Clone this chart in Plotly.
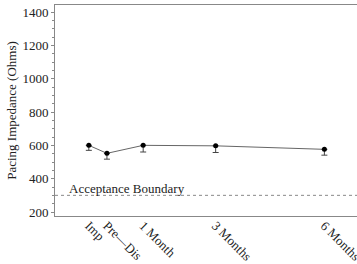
import plotly.graph_objects as go

categories = ["Imp", "Pre\u2014Dis", "1 Month", "3 Months", "6 Months"]
x_pos = [-15, 0, 30, 90, 180]
values = [600, 552, 600, 597, 576]
err_minus = [30, 35, 40, 40, 35]
boundary = 300
yticks = [200, 400, 600, 800, 1000, 1200, 1400]

FONT = "Liberation Serif"

fig = go.Figure()
fig.add_trace(go.Scatter(
    x=x_pos, y=values, mode="lines+markers",
    line=dict(color="#666666", width=1),
    marker=dict(color="black", size=5),
    error_y=dict(type="data", symmetric=False, array=[0]*len(values),
                 arrayminus=err_minus, color="#444444", thickness=1, width=3),
    showlegend=False,
))
fig.add_shape(type="line", xref="paper", x0=0, x1=1, yref="y", y0=boundary, y1=boundary,
              line=dict(color="#888888", width=1, dash="dot"))
fig.add_annotation(x=-33, y=boundary, xref="x", yref="y", text="Acceptance Boundary",
                   showarrow=False, xanchor="left", yanchor="bottom", yshift=-3,
                   font=dict(family=FONT, size=13, color="#222222"))

fig.update_layout(
    width=357, height=264,
    margin=dict(l=55, r=0, t=5, b=48),
    paper_bgcolor="white", plot_bgcolor="white",
    font=dict(family=FONT, size=13, color="#222222"),
    xaxis=dict(range=[-43, 207], tickvals=x_pos, ticktext=categories, tickangle=45,
               showgrid=False, zeroline=False, showline=True, linecolor="#888888",
               linewidth=1, mirror=True, ticks="", tickfont=dict(size=13),
               automargin=False, ticklabeloverflow="allow", ticklabelstandoff=-4),
    yaxis=dict(range=[176, 1442], tickvals=yticks, showgrid=False, zeroline=False,
               showline=True, linecolor="#888888", linewidth=1, ticks="outside",
               ticklen=3, tickcolor="#888888",
               minor=dict(dtick=50, ticks="outside", ticklen=2, tickcolor="#888888"),
               title=dict(text="Pacing Impedance (Ohms)", font=dict(size=13), standoff=2),
               tickfont=dict(size=13), automargin=False),
)
fig.write_html(
    "out.html",
    config={"responsive": False, "displayModeBar": False},
    post_script="document.body.style.margin='0';document.body.style.overflow='hidden';"
                "Plotly.relayout('{plot_id}', {width: 357, height: 264});",
)
